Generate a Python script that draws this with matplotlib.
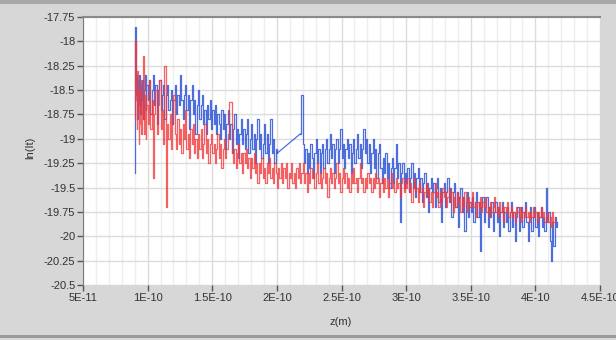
import numpy as np
import matplotlib
matplotlib.use('Agg')
import matplotlib.pyplot as plt
from matplotlib.patches import Rectangle
from matplotlib.ticker import MultipleLocator

#%% data (z in units of 1E-10 m)
blue_z1 = [0.900, 0.905, 0.910, 0.915, 0.920, 0.925, 0.930, 0.935, 0.940, 0.945,
           0.950, 0.960, 0.965, 0.970, 0.980, 0.985, 0.990, 1.000, 1.010, 1.020,
           1.03, 1.04, 1.05, 1.06, 1.07, 1.08, 1.09, 1.10, 1.11, 1.12,
           1.13, 1.14, 1.15, 1.16, 1.17, 1.18, 1.19, 1.20, 1.21, 1.22,
           1.23, 1.24, 1.25, 1.26, 1.27, 1.28, 1.29, 1.30, 1.31, 1.32,
           1.33, 1.34, 1.35, 1.36, 1.37, 1.38, 1.39, 1.40, 1.41, 1.42,
           1.43, 1.44, 1.45, 1.46, 1.47, 1.48, 1.49, 1.50, 1.51, 1.52,
           1.53, 1.54, 1.55, 1.56, 1.57, 1.58, 1.59, 1.60, 1.61, 1.62,
           1.63, 1.64, 1.65, 1.66, 1.67, 1.68, 1.69, 1.70, 1.71, 1.72,
           1.73, 1.74, 1.75, 1.76, 1.77, 1.78, 1.79, 1.80, 1.81, 1.82,
           1.83, 1.84, 1.85, 1.86, 1.87, 1.88, 1.89, 1.90, 1.91, 1.92,
           1.93, 1.94, 1.95, 1.96, 1.97, 1.98, 1.99, 2.00]
blue_ln1 = [-19.35, -17.85, -18.55, -18.35, -18.80, -18.40, -18.65, -18.35, -18.75, -18.45,
            -18.60, -18.40, -18.80, -18.50, -18.35, -18.70, -18.45, -18.60, -18.40, -18.75,
            -18.50, -18.35, -18.65, -18.45, -18.85, -18.50, -18.40, -18.70, -18.55, -18.45,
            -18.80, -18.55, -18.45, -18.70, -18.60, -18.50, -18.85, -18.60, -18.45, -18.75,
            -18.55, -18.65, -18.35, -18.60, -18.80, -18.55, -18.45, -18.70, -18.55, -18.90,
            -18.60, -18.45, -18.75, -18.60, -18.95, -18.65, -18.50, -18.80, -18.65, -18.55,
            -18.85, -18.70, -18.95, -18.65, -18.80, -18.60, -18.90, -18.70, -18.85, -18.65,
            -18.95, -18.75, -18.85, -19.00, -18.70, -18.90, -18.75, -19.10, -18.85, -18.70,
            -19.00, -18.85, -19.15, -18.90, -18.75, -19.05, -18.90, -19.20, -18.95, -18.80,
            -19.05, -18.90, -19.10, -18.95, -18.80, -19.15, -19.00, -18.85, -19.10, -18.95,
            -19.25, -19.00, -18.80, -19.10, -18.95, -19.20, -19.05, -18.85, -19.15, -18.95,
            -19.25, -19.05, -18.80, -19.15, -19.00, -19.25, -19.10, -19.15]

blue_z2 = [2.18, 2.19, 2.20, 2.21, 2.22, 2.23, 2.24, 2.25, 2.26, 2.27,
           2.28, 2.29, 2.30, 2.31, 2.32, 2.33, 2.34, 2.35, 2.36, 2.37,
           2.38, 2.39, 2.40, 2.41, 2.42, 2.43, 2.44, 2.45, 2.46, 2.47,
           2.48, 2.49, 2.50, 2.51, 2.52, 2.53, 2.54, 2.55, 2.56, 2.57,
           2.58, 2.59, 2.60, 2.61, 2.62, 2.63, 2.64, 2.65, 2.66, 2.67,
           2.68, 2.69, 2.70, 2.71, 2.72, 2.73, 2.74, 2.75, 2.76, 2.77,
           2.78, 2.79, 2.80, 2.81, 2.82, 2.83, 2.84, 2.85, 2.86, 2.87,
           2.88, 2.89, 2.90, 2.91, 2.92, 2.93, 2.94, 2.95, 2.96, 2.97,
           2.98, 2.99, 3.00, 3.01, 3.02, 3.03, 3.04, 3.05, 3.06, 3.07,
           3.08, 3.09, 3.10, 3.11, 3.12, 3.13, 3.14, 3.15, 3.16, 3.17,
           3.18, 3.19, 3.20, 3.21, 3.22, 3.23, 3.24, 3.25, 3.26, 3.27,
           3.28, 3.29, 3.30, 3.31, 3.32, 3.33, 3.34, 3.35, 3.36, 3.37,
           3.38, 3.39, 3.40, 3.41, 3.42, 3.43, 3.44, 3.45, 3.46, 3.47,
           3.48, 3.49, 3.50, 3.51, 3.52, 3.53, 3.54, 3.55, 3.56, 3.57,
           3.58, 3.59, 3.60, 3.61, 3.62, 3.63, 3.64, 3.65, 3.66, 3.67,
           3.68, 3.69, 3.70, 3.71, 3.72, 3.73, 3.74, 3.75, 3.76, 3.77,
           3.78, 3.79, 3.80, 3.81, 3.82, 3.83, 3.84, 3.85, 3.86, 3.87,
           3.88, 3.89, 3.90, 3.91, 3.92, 3.93, 3.94, 3.95, 3.96, 3.97,
           3.98, 3.99, 4.00, 4.01, 4.02, 4.03, 4.04, 4.05, 4.06, 4.07,
           4.08, 4.09, 4.10, 4.11, 4.12, 4.13, 4.14, 4.15, 4.16, 4.17]
blue_ln2 = [-18.95, -18.55, -19.05, -19.25, -19.10, -19.35, -19.15, -19.30, -19.05, -19.20,
            -19.40, -19.15, -19.00, -19.25, -19.10, -19.35, -19.15, -19.05, -19.30, -19.10,
            -19.00, -19.25, -19.10, -18.95, -19.20, -19.05, -19.35, -19.10, -19.00, -19.25,
            -19.10, -18.90, -19.20, -19.05, -19.30, -19.10, -19.00, -19.20, -19.05, -19.35,
            -19.15, -19.00, -19.25, -19.10, -18.95, -19.20, -19.05, -19.30, -19.10, -18.90,
            -19.15, -19.00, -19.25, -19.05, -19.35, -19.15, -19.00, -19.30, -19.10, -19.40,
            -19.15, -19.05, -19.30, -19.45, -19.20, -19.35, -19.15, -19.40, -19.25, -19.50,
            -19.30, -19.20, -19.45, -19.30, -19.05, -19.40, -19.25, -19.85, -19.35, -19.25,
            -19.50, -19.35, -19.45, -19.30, -19.55, -19.40, -19.25, -19.50, -19.35, -19.60,
            -19.40, -19.30, -19.55, -19.40, -19.65, -19.45, -19.35, -19.60, -19.45, -19.75,
            -19.50, -19.40, -19.55, -19.45, -19.70, -19.50, -19.40, -19.65, -19.50, -19.85,
            -19.55, -19.45, -19.70, -19.55, -19.40, -19.65, -19.50, -19.80, -19.55, -19.45,
            -19.70, -19.55, -19.90, -19.60, -19.50, -19.75, -19.60, -19.95, -19.65, -19.55,
            -19.80, -19.65, -19.75, -19.60, -19.85, -19.65, -19.55, -19.80, -19.65, -20.15,
            -19.70, -19.60, -19.85, -19.70, -19.60, -19.90, -19.70, -19.80, -19.65, -19.95,
            -19.75, -19.65, -19.85, -19.70, -20.00, -19.75, -19.65, -19.90, -19.75, -19.85,
            -19.70, -19.95, -19.75, -19.65, -19.90, -19.75, -20.05, -19.80, -19.70, -19.95,
            -19.80, -19.70, -19.90, -19.75, -19.65, -19.85, -20.05, -19.80, -19.70, -19.95,
            -19.80, -19.70, -19.90, -19.75, -20.00, -19.80, -19.70, -19.90, -19.80, -19.95,
            -19.50, -19.85, -19.75, -20.05, -20.25, -19.85, -20.10, -19.80, -19.90, -19.85]

red_z = [0.900, 0.905, 0.910, 0.915, 0.920, 0.925, 0.930, 0.935, 0.940, 0.945,
         0.950, 0.955, 0.960, 0.965, 0.970, 0.975, 0.980, 0.985, 0.990, 1.000,
         1.01, 1.02, 1.03, 1.04, 1.05, 1.06, 1.07, 1.08, 1.09, 1.10,
         1.11, 1.12, 1.13, 1.14, 1.15, 1.16, 1.17, 1.18, 1.19, 1.20,
         1.21, 1.22, 1.23, 1.24, 1.25, 1.26, 1.27, 1.28, 1.29, 1.30,
         1.31, 1.32, 1.33, 1.34, 1.35, 1.36, 1.37, 1.38, 1.39, 1.40,
         1.41, 1.42, 1.43, 1.44, 1.45, 1.46, 1.47, 1.48, 1.49, 1.50,
         1.51, 1.52, 1.53, 1.54, 1.55, 1.56, 1.57, 1.58, 1.59, 1.60,
         1.61, 1.62, 1.63, 1.64, 1.65, 1.66, 1.67, 1.68, 1.69, 1.70,
         1.71, 1.72, 1.73, 1.74, 1.75, 1.76, 1.77, 1.78, 1.79, 1.80,
         1.81, 1.82, 1.83, 1.84, 1.85, 1.86, 1.87, 1.88, 1.89, 1.90,
         1.91, 1.92, 1.93, 1.94, 1.95, 1.96, 1.97, 1.98, 1.99, 2.00,
         2.01, 2.02, 2.03, 2.04, 2.05, 2.06, 2.07, 2.08, 2.09, 2.10,
         2.11, 2.12, 2.13, 2.14, 2.15, 2.16, 2.17, 2.18, 2.19, 2.20,
         2.21, 2.22, 2.23, 2.24, 2.25, 2.26, 2.27, 2.28, 2.29, 2.30,
         2.31, 2.32, 2.33, 2.34, 2.35, 2.36, 2.37, 2.38, 2.39, 2.40,
         2.41, 2.42, 2.43, 2.44, 2.45, 2.46, 2.47, 2.48, 2.49, 2.50,
         2.51, 2.52, 2.53, 2.54, 2.55, 2.56, 2.57, 2.58, 2.59, 2.60,
         2.61, 2.62, 2.63, 2.64, 2.65, 2.66, 2.67, 2.68, 2.69, 2.70,
         2.71, 2.72, 2.73, 2.74, 2.75, 2.76, 2.77, 2.78, 2.79, 2.80,
         2.81, 2.82, 2.83, 2.84, 2.85, 2.86, 2.87, 2.88, 2.89, 2.90,
         2.91, 2.92, 2.93, 2.94, 2.95, 2.96, 2.97, 2.98, 2.99, 3.00,
         3.01, 3.02, 3.03, 3.04, 3.05, 3.06, 3.07, 3.08, 3.09, 3.10,
         3.11, 3.12, 3.13, 3.14, 3.15, 3.16, 3.17, 3.18, 3.19, 3.20,
         3.21, 3.22, 3.23, 3.24, 3.25, 3.26, 3.27, 3.28, 3.29, 3.30,
         3.31, 3.32, 3.33, 3.34, 3.35, 3.36, 3.37, 3.38, 3.39, 3.40,
         3.41, 3.42, 3.43, 3.44, 3.45, 3.46, 3.47, 3.48, 3.49, 3.50,
         3.51, 3.52, 3.53, 3.54, 3.55, 3.56, 3.57, 3.58, 3.59, 3.60,
         3.61, 3.62, 3.63, 3.64, 3.65, 3.66, 3.67, 3.68, 3.69, 3.70,
         3.71, 3.72, 3.73, 3.74, 3.75, 3.76, 3.77, 3.78, 3.79, 3.80,
         3.81, 3.82, 3.83, 3.84, 3.85, 3.86, 3.87, 3.88, 3.89, 3.90,
         3.91, 3.92, 3.93, 3.94, 3.95, 3.96, 3.97, 3.98, 3.99, 4.00,
         4.01, 4.02, 4.03, 4.04, 4.05, 4.06, 4.07, 4.08, 4.09, 4.10,
         4.11, 4.12, 4.13, 4.14, 4.15]
red_ln = [-18.80, -18.00, -18.60, -18.90, -18.30, -18.75, -19.05, -18.50, -18.85, -18.40,
          -18.95, -18.60, -18.80, -18.15, -18.70, -18.95, -18.55, -19.00, -18.65, -18.85,
          -18.40, -18.90, -18.60, -19.40, -18.75, -18.50, -18.95, -18.65, -18.40, -18.90,
          -18.70, -19.05, -18.25, -19.70, -18.85, -19.00, -18.75, -19.10, -18.85, -18.55,
          -18.95, -19.10, -18.80, -19.05, -18.90, -19.15, -18.85, -19.00, -18.70, -19.10,
          -18.95, -19.20, -18.90, -19.05, -18.85, -19.15, -19.00, -19.20, -18.95, -19.10,
          -18.90, -19.20, -19.05, -18.85, -19.15, -19.00, -19.25, -19.05, -18.95, -19.15,
          -19.05, -19.25, -19.10, -18.95, -19.20, -19.05, -19.30, -19.10, -19.00, -19.20,
          -19.10, -18.95, -18.62, -18.62, -19.15, -19.25, -19.10, -19.30, -19.15, -19.05,
          -19.25, -19.15, -19.35, -19.15, -19.25, -19.10, -19.30, -19.20, -19.40, -19.20,
          -19.30, -19.15, -19.35, -19.25, -19.45, -19.25, -19.35, -19.20, -19.40, -19.30,
          -19.45, -19.25, -19.35, -19.20, -19.40, -19.30, -19.45, -19.25, -19.35, -19.50,
          -19.30, -19.40, -19.25, -19.45, -19.30, -19.40, -19.25, -19.50, -19.35, -19.40,
          -19.25, -19.45, -19.35, -19.50, -19.30, -19.40, -19.25, -19.45, -19.35, -19.25,
          -19.45, -19.35, -19.55, -19.35, -19.45, -19.30, -19.40, -19.35, -19.50, -19.35,
          -19.25, -19.45, -19.35, -19.50, -19.40, -19.30, -19.45, -19.35, -19.60, -19.40,
          -19.30, -19.45, -19.35, -19.50, -19.40, -19.25, -19.45, -19.35, -19.55, -19.40,
          -19.30, -19.45, -19.35, -19.50, -19.40, -19.55, -19.35, -19.45, -19.30, -19.45,
          -19.40, -19.55, -19.40, -19.25, -19.45, -19.40, -19.55, -19.40, -19.50, -19.35,
          -19.45, -19.40, -19.55, -19.40, -19.50, -19.35, -19.45, -19.40, -19.60, -19.45,
          -19.40, -19.55, -19.40, -19.50, -19.40, -19.60, -19.45, -19.35, -19.50, -19.45,
          -19.55, -19.40, -19.50, -19.45, -19.60, -19.45, -19.40, -19.55, -19.45, -19.50,
          -19.40, -19.55, -19.45, -19.65, -19.50, -19.40, -19.55, -19.50, -19.65, -19.45,
          -19.55, -19.50, -19.70, -19.55, -19.45, -19.60, -19.50, -19.65, -19.55, -19.70,
          -19.55, -19.45, -19.60, -19.55, -19.70, -19.55, -19.65, -19.50, -19.60, -19.55,
          -19.70, -19.60, -19.50, -19.65, -19.55, -19.75, -19.60, -19.70, -19.55, -19.65,
          -19.60, -19.75, -19.60, -19.70, -19.55, -19.65, -19.75, -19.60, -19.70, -19.65,
          -19.55, -19.70, -19.65, -19.80, -19.65, -19.70, -19.60, -19.75, -19.65, -19.70,
          -19.60, -19.75, -19.70, -19.80, -19.65, -19.75, -19.70, -19.60, -19.75, -19.70,
          -19.80, -19.65, -19.75, -19.70, -19.85, -19.70, -19.75, -19.65, -19.80, -19.75,
          -19.70, -19.80, -19.75, -19.85, -19.70, -19.75, -19.80, -19.70, -19.85, -19.75,
          -19.80, -19.70, -19.80, -19.75, -19.85, -19.75, -19.80, -19.70, -19.80, -19.75,
          -19.85, -19.75, -19.80, -19.70, -19.80, -19.75, -19.85, -19.80, -19.75, -19.85,
          -19.80, -19.90, -19.75, -19.85, -19.80]

x_ticks = [0.5, 1.0, 1.5, 2.0, 2.5, 3.0, 3.5, 4.0, 4.5]
x_labels = ['5E-11', '1E-10', '1.5E-10', '2E-10', '2.5E-10', '3E-10', '3.5E-10', '4E-10', '4.5E-10']
y_ticks = [-17.75, -18, -18.25, -18.5, -18.75, -19, -19.25, -19.5, -19.75, -20, -20.25, -20.5]
y_labels = ['-17.75', '-18', '-18.25', '-18.5', '-18.75', '-19', '-19.25', '-19.5',
            '-19.75', '-20', '-20.25', '-20.5']

unit = 1e-10
W, H = 616, 340
plt.rcParams['font.family'] = ['Liberation Sans', 'DejaVu Sans']

#%% figure
fig = plt.figure(figsize=(W / 100, H / 100), dpi=100, facecolor='#d7d7d7')
fig.patches.append(Rectangle((0, 1 - 4 / H), 1, 4 / H, transform=fig.transFigure,
                             facecolor='#a8a8a8', edgecolor='none'))
fig.patches.append(Rectangle((0, 1 - 338 / H), 1, 3 / H, transform=fig.transFigure,
                             facecolor='#9a9a9a', edgecolor='none'))

ax = fig.add_axes([83 / W, 1 - 285 / H, 517 / W, 268 / H])
ax.set_facecolor('white')

blue = '#2f55d8'
red = '#f2393b'
bz1 = np.array(blue_z1) * unit
bz2 = np.array(blue_z2) * unit
ax.plot(bz1, blue_ln1, drawstyle='steps-post', color=blue, lw=0.9, alpha=0.85)
ax.plot([bz1[-1], bz2[0]], [blue_ln1[-1], blue_ln2[0]], color=blue, lw=0.9, alpha=0.85)
ax.plot(bz2, blue_ln2, drawstyle='steps-post', color=blue, lw=0.9, alpha=0.85)
ax.plot(np.array(red_z) * unit, red_ln, drawstyle='steps-post', color=red, lw=0.9, alpha=0.8)

ax.set_xlim(0.5 * unit, 4.5 * unit)
ax.set_ylim(-20.5, -17.75)
ax.set_xticks(np.array(x_ticks) * unit)
ax.set_xticklabels(x_labels)
ax.set_yticks(y_ticks)
ax.set_yticklabels(y_labels)
ax.xaxis.set_minor_locator(MultipleLocator(0.1 * unit))

ax.grid(which='major', color='#dcdcdc', lw=1)
ax.grid(which='minor', axis='x', color='#eeeeee', lw=1)
ax.set_axisbelow(True)

for s in ['right', 'bottom']:
    ax.spines[s].set_visible(False)
ax.spines['left'].set_color('#7a7a7a')
ax.spines['top'].set_color('#8a8a8a')
ax.spines['top'].set_linewidth(1.5)
ax.tick_params(which='major', direction='out', length=4, width=1, color='#555555',
               labelcolor='#333333', labelsize=8, pad=1.5)
ax.tick_params(which='minor', length=0)

fig.text(30 / W, 1 - 148 / H, 'ln(It)', rotation=90, ha='center', va='center',
         fontsize=8, color='#333333')
fig.text(341 / W, 1 - 322 / H, 'z(m)', ha='center', va='center', fontsize=8, color='#333333')

fig.savefig('out.png', dpi=100, facecolor=fig.get_facecolor())
